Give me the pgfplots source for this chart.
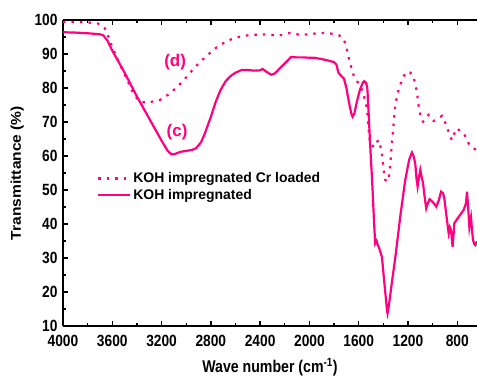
\documentclass[border=0pt]{standalone}
\usepackage{fontspec}
\setmainfont{Liberation Sans}
\usepackage{pgfplots}
\pgfplotsset{compat=1.18}
\definecolor{pk}{RGB}{255,0,128}
\pgfplotstableread{
x y
4000 99.5
3900 99.4
3800 99.3
3720 99
3690 98.5
3660 97.5
3640 96
3600 92
3537 86.8
3480 82.5
3429 78.4
3390 76.5
3361 75.8
3300 75.8
3250 76.2
3212 76.5
3131 78.4
3060 80.8
2995 83.3
2940 85.7
2887 87.7
2820 89.9
2752 92
2680 93.6
2617 94.6
2550 95.2
2481 95.6
2400 95.7
2346 95.8
2300 95.6
2251 95.4
2156 96.2
2075 95.6
2000 95.8
1940 96.1
1870 96.2
1805 95.9
1760 95.5
1723 94.6
1700 92
1683 89.2
1660 86
1642 83.8
1615 82
1588 80.9
1560 78
1533 74
1515 66
1507 63.2
1490 63
1466 62.7
1450 64.2
1439 64.7
1425 63
1412 60.8
1398 56
1385 53
1370 52.5
1358 53
1345 57
1331 63.7
1315 70
1304 75
1280 79
1263 80.9
1235 83.5
1209 84.8
1180 84.5
1155 83.3
1140 81
1128 78.9
1115 75
1100 72.1
1085 70.5
1078 70.1
1055 71
1033 72.1
1010 71
992 70.3
960 71
924 71.8
900 70
870 67.1
855 65.5
843 64.7
825 66.5
808 68.1
780 67.5
749 66.7
730 65.5
708 63.7
690 63
667 62.3
650 61.8
}\dataD
\pgfplotstableread{
x y
4000 96.4
3900 96.3
3800 96.1
3700 95.8
3673 95.5
3640 94
3600 91
3500 84.5
3400 77.5
3300 71
3200 64.5
3150 61.5
3120 60.5
3090 60.6
3050 61.2
3000 61.5
2950 61.8
2920 62.3
2880 64
2850 66.5
2800 71.5
2760 76
2720 79.5
2680 82
2640 83.5
2600 84.5
2550 85.3
2500 85.3
2450 85.1
2400 85.2
2380 85.6
2350 84.8
2310 83.9
2280 84.3
2240 85.8
2200 87.2
2160 88.7
2150 89.1
2100 89
2050 89
2000 88.9
1960 88.9
1900 88.5
1850 88.1
1800 87.6
1780 86.8
1765 84.5
1740 83.5
1720 82.8
1700 80
1680 76
1660 72.5
1650 71.6
1635 72.5
1615 76
1590 79.5
1565 81.7
1555 82
1540 81.5
1530 80
1520 73
1507 63.2
1490 52
1475 40
1466 34.3
1455 35
1445 33.8
1435 33
1412 30.4
1390 22
1370 14.5
1366 13.7
1355 16
1330 23
1300 31
1260 43
1222 53
1190 59
1168 61
1155 60
1141 57.8
1130 53
1122 51
1110 54
1100 55.9
1090 54
1078 52
1065 48
1052 44.6
1040 46
1025 47.3
1000 46.5
970 45.1
950 47
932 49.5
915 49
905 47.5
890 43
870 37.3
860 39
851 38.2
838 33.3
830 37
824 40.2
800 41.5
770 43
749 44.1
730 46
721 49.5
712 45
702 39.2
695 41
689 42.1
680 38
672 35.3
660 34
654 33.8
645 34.5
640 34.3
}\dataC
\begin{document}
\begin{tikzpicture}
\begin{axis}[
 scale only axis, width=414bp, height=306bp,
 x dir=reverse, xmin=640, xmax=4000, ymin=10, ymax=100,
 axis x line*=box, axis y line*=left,
 xtick={800,1200,...,4000}, ytick={10,20,...,100},
 minor x tick num=1, minor y tick num=1,
 tick align=inside,
 major tick length=5bp, minor tick length=3bp,
 every tick/.style={black, line width=1.3bp},
 axis line style={line width=1.6bp},
 /pgf/number format/assume math mode=true,
 /pgf/number format/set thousands separator={},
 tick label style={font=\fontsize{13.8}{15}\selectfont\bfseries},
 xticklabel={\scalebox{1}[1.18]{\pgfmathprintnumber{\tick}}},
 yticklabel={\scalebox{1}[1.18]{\pgfmathprintnumber{\tick}}},
 xticklabel style={yshift=-6bp},
 yticklabel style={xshift=-2bp},
 xlabel={\scalebox{1}[1.2]{Wave number (cm\textsuperscript{-1})}},
 ylabel={\scalebox{1.1}[1]{Transmittance (\%)}},
 label style={font=\fontsize{14.2}{16}\selectfont\bfseries},
 xlabel style={yshift=-4bp},
 ylabel style={yshift=4bp},
 legend style={at={(axis description cs:0.082,0.508)}, anchor=north west, draw=none, fill=none,
   font=\fontsize{14}{16}\selectfont\bfseries, row sep=1bp, inner sep=0pt},
 legend cell align=left,
 legend image code/.code={\draw[#1] (0bp,0bp) -- (32bp,0bp);},
]
\addplot[pk, line width=2.2bp, dash pattern=on 2.5bp off 6bp] table[x=x,y=y] {\dataD};
\addlegendentry{KOH impregnated Cr loaded}
\addplot[pk, line width=2.2bp] table[x=x,y=y] {\dataC};
\addlegendentry{KOH impregnated}
\node[text=pk, font=\fontsize{17}{19}\selectfont\bfseries] at (axis cs:3090,87.6) {(d)};
\node[text=pk, font=\fontsize{17}{19}\selectfont\bfseries] at (axis cs:3074,67.1) {(c)};
\coordinate (SW) at (axis description cs:0,0);
\coordinate (NE) at (axis description cs:1,1);
\end{axis}
\pgfresetboundingbox
\useasboundingbox ([shift={(-63bp,-50bp)}]SW) rectangle ([shift={(0bp,20bp)}]NE);
\end{tikzpicture}
\end{document}
